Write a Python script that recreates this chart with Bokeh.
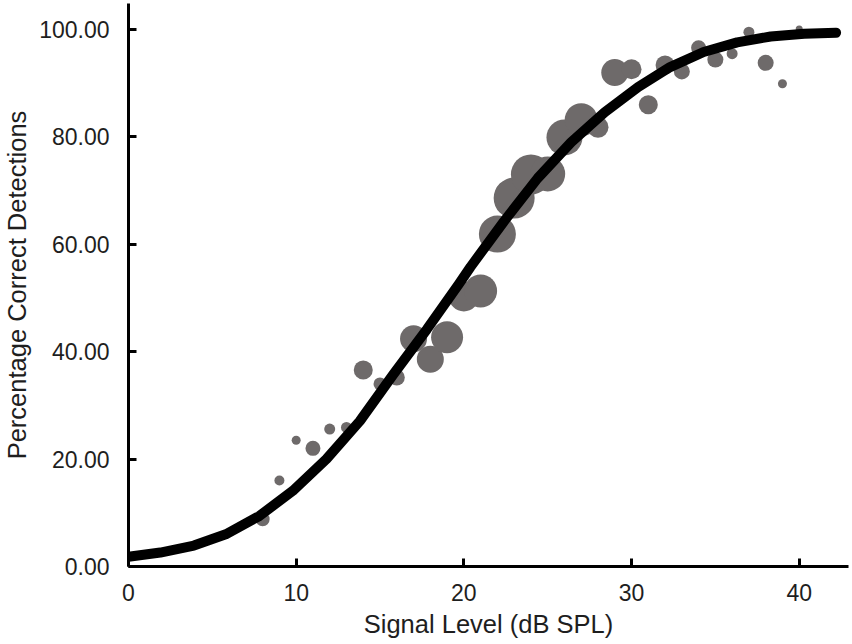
from bokeh.plotting import figure
from bokeh.models import FixedTicker, NumeralTickFormatter, Range1d, ColumnDataSource
from bokeh.embed import file_html
from bokeh.resources import INLINE

# ---- data ----
signal_db = [8, 9, 10, 11, 12, 13, 14, 15, 16, 17, 18, 19, 20, 21, 22, 23, 24,
             25, 26, 27, 28, 29, 30, 31, 32, 33, 34, 35, 36, 37, 38, 39, 40]
pct_correct = [8.8, 16.0, 23.5, 22.0, 25.6, 25.9, 36.6, 34.0, 35.2, 42.4, 38.6,
               42.7, 50.3, 51.3, 61.9, 68.6, 73.0, 73.1, 79.9, 83.2, 81.8, 92.0,
               92.6, 86.0, 93.4, 92.2, 96.6, 94.4, 95.5, 99.5, 93.8, 89.9, 100.1]
bubble_weight = [14, 10, 9, 15, 11, 11, 19, 13, 16, 27, 27, 32, 30, 33, 37, 41,
                 40, 35, 36, 33, 21, 27, 20, 19, 19, 16, 15, 16, 11, 11, 16, 9, 7]

fit_x = [0, 1.9, 3.9, 5.8, 7.8, 9.8, 11.8, 13.8, 15.8, 17.8, 19.7, 20.4, 22.4,
         24.4, 26.4, 28.4, 30.4, 32.3, 34.3, 36.3, 38.3, 40.3, 42.2]
fit_y = [1.8, 2.6, 3.9, 6.0, 9.4, 14.1, 20.0, 27.1, 35.8, 44.2, 52.6, 55.8, 64.3,
         72.3, 79.0, 84.6, 89.3, 93.0, 95.8, 97.6, 98.7, 99.2, 99.4]

x_ticks = [0, 10, 20, 30, 40]
y_ticks = [0, 20, 40, 60, 80, 100]

x_label = "Signal Level (dB SPL)"
y_label = "Percentage Correct Detections"

FONT = "Liberation Sans"

p = figure(width=852, height=644, output_backend="svg", toolbar_location=None,
           x_range=Range1d(0, 42.94), y_range=Range1d(0, 104.84),
           min_border_left=127, min_border_right=4, min_border_top=3,
           min_border_bottom=78)

p.grid.visible = False
p.outline_line_color = None
p.background_fill_color = "white"
p.border_fill_color = "white"

src = ColumnDataSource(dict(x=signal_db, y=pct_correct, s=bubble_weight))
p.scatter("x", "y", size="s", source=src, fill_color="#6e6a6a",
          line_color=None, fill_alpha=1.0)

p.line(fit_x, fit_y, line_color="black", line_width=10,
       line_cap="round", line_join="round")

for ax in (p.xaxis[0], p.yaxis[0]):
    ax.axis_line_width = 3
    ax.axis_line_color = "black"
    ax.major_tick_line_width = 3
    ax.major_tick_line_color = "black"
    ax.major_tick_in = 8
    ax.major_tick_out = 0
    ax.minor_tick_line_color = None
    ax.major_label_text_font = FONT
    ax.major_label_text_font_size = "23px"
    ax.major_label_text_color = "#1e1e1e"
    ax.axis_label_text_font = FONT
    ax.axis_label_text_font_size = "25.5px"
    ax.axis_label_text_font_style = "normal"
    ax.axis_label_text_color = "#1e1e1e"

p.xaxis.ticker = FixedTicker(ticks=x_ticks)
p.yaxis.ticker = FixedTicker(ticks=y_ticks)
p.yaxis.formatter = NumeralTickFormatter(format="0.00")
p.xaxis.axis_label = x_label
p.yaxis.axis_label = y_label
p.xaxis.major_label_standoff = 17
p.yaxis.major_label_standoff = 19
p.xaxis.axis_label_standoff = 6
p.yaxis.axis_label_standoff = 5

open("out.html", "w").write(file_html(p, INLINE))
